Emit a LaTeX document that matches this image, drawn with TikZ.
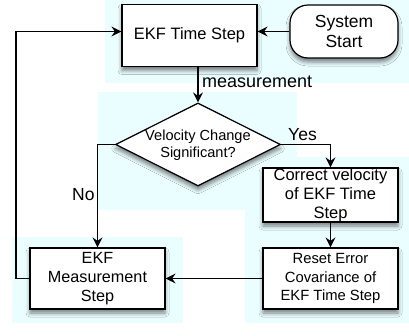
\documentclass[tikz,border=0pt]{standalone}
\usepackage{fontspec}
\setmainfont{Liberation Sans}
\usetikzlibrary{arrows.meta,shapes.geometric,shadows.blur}
\definecolor{panel}{RGB}{234,253,255}

\begin{document}
\begin{tikzpicture}[x=1pt,y=-1pt,
  softshadow/.style={blur shadow={shadow xshift=0pt,shadow yshift=-4pt,shadow blur radius=4pt,shadow opacity=50}},
  box/.style={draw=black,line width=1.2pt,fill=white,inner sep=0pt,align=center,
    minimum width=135pt,softshadow},
  dia/.style={draw=black,line width=1.2pt,fill=white,diamond,inner sep=0pt,
    minimum width=165pt,minimum height=83pt,softshadow},
  flow/.style={draw=black,line width=1.2pt,-{Stealth[length=10pt,width=10pt,inset=3.5pt]}},
  lbl/.style={font=\fontsize{17.5}{20}\selectfont,inner sep=0pt},
]
\useasboundingbox (0,0) rectangle (409,335);

% light panels behind the groups
\fill[panel] (105,0) rectangle (409,83);
\fill[panel] (98,92) rectangle (297,210);
\fill[panel] (245,157) rectangle (409,323);
\fill[panel] (12,237) rectangle (183,323);

% steps
\node[box,minimum height=62pt,font=\fontsize{16.5}{19}\selectfont] (ts) at (189.5,35.5) {EKF Time Step};
\node[box,minimum width=108pt,minimum height=53pt,rounded corners=18pt,
  font=\fontsize{17.5}{20}\selectfont] (ss) at (344,31.5) {System\\Start};
\node[dia] (dm) at (198,144.5) {};
\node[font=\fontsize{14.6}{17}\selectfont,align=center,inner sep=0pt] (dmtext) at (198,145) {Velocity Change\\Significant?};
\node[box,minimum height=54pt,font=\fontsize{16.5}{19}\selectfont] (cv) at (330.5,195) {Correct velocity\\of EKF Time\\Step};
\node[box,minimum height=61pt,font=\fontsize{14.8}{18.2}\selectfont] (rs) at (330.5,278.5) {Reset Error\\Covariance of\\EKF Time Step};
\node[box,minimum height=61pt,font=\fontsize{16.2}{19}\selectfont] (em) at (97.5,278.5) {EKF\\Measurement\\Step};

% connectors
\coordinate (lp) at (16,31.5);
\draw[flow] (ss.west) -- (ss.west -| ts.east);
\draw[flow] (dm.north |- ts.south) -- (dm.north);
\draw[flow] (dm.east) -| (cv.north);
\draw[flow] (dm.west) -| (em.north);
\draw[flow] (cv.south) -- (rs.north);
\draw[flow] (rs.west) -- (em.east);
\draw[flow] (em.west) -| (lp) -- (lp -| ts.west);

% branch labels
\node[lbl,anchor=base west,font=\fontsize{18}{20}\selectfont] (lm) at (202,87) {measurement};
\node[lbl,anchor=base west] (ly) at (288,140) {Yes};
\node[lbl,anchor=base west] (ln) at (72,200) {No};
\end{tikzpicture}
\end{document}
